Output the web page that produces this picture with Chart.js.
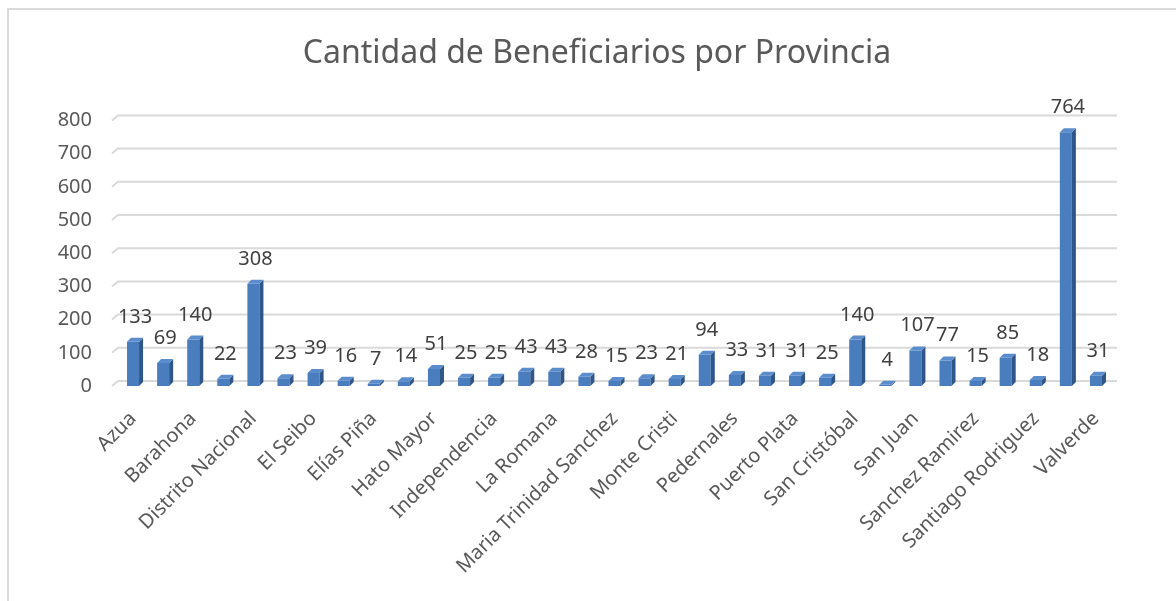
<!DOCTYPE html>
<html>
<head>
<meta charset="utf-8">
<script src="https://cdn.jsdelivr.net/npm/chart.js@4.4.1/dist/chart.umd.min.js"></script>
<style>
    html, body { margin: 0; padding: 0; background: #fff; }
    #wrap { position: relative; width: 1176px; height: 601px; }
    #frame { position: absolute; left: 7px; top: 8px; right: 0; bottom: 0; border-left: 2px solid #d9d9d9; border-top: 2px solid #d9d9d9; pointer-events: none; }
</style>
</head>
<body>
<div id="wrap">
    <canvas id="chart" width="1176" height="601"></canvas>
    <div id="frame"></div>
</div>
<script>
// Data
const provincias = [
    'Azua', 'Bahoruco', 'Barahona', 'Dajabón', 'Distrito Nacional', 'Duarte',
    'El Seibo', 'Espaillat', 'Elías Piña', 'Hermanas Mirabal', 'Hato Mayor', 'Monseñor Nouel',
    'Independencia', 'La Altagracia', 'La Romana', 'La Vega', 'Maria Trinidad Sanchez', 'Monte Plata',
    'Monte Cristi', 'Peravia', 'Pedernales', 'Samaná', 'Puerto Plata', 'San José de Ocoa',
    'San Cristóbal', 'San Pedro de Macorís', 'San Juan', 'Santiago', 'Sanchez Ramirez', 'Santo Domingo',
    'Santiago Rodriguez', 'Provincia Santo Domingo', 'Valverde'
];
const beneficiarios = [
    133, 69, 140, 22, 308, 23, 39, 16, 7, 14, 51, 25, 25, 43, 43, 28, 15,
    23, 21, 94, 33, 31, 31, 25, 140, 4, 107, 77, 15, 85, 18, 764, 31
];
const yTicks = [0, 100, 200, 300, 400, 500, 600, 700, 800];

const FONT = "'Noto Sans', 'Open Sans', sans-serif";

// back-wall gridlines (shifted up, like the 3D floor)
const wallGrid = {
    id: 'wallGrid',
    beforeDatasetsDraw(chart) {
        const {ctx, chartArea} = chart;
        const y = chart.scales.y;
        ctx.save();
        ctx.strokeStyle = '#d9d9d9';
        ctx.lineWidth = 2;
        yTicks.forEach(v => {
            const py = y.getPixelForValue(v) - 5;
            ctx.beginPath();
            ctx.moveTo(chartArea.left - 6, py + 5);
            ctx.lineTo(chartArea.left, py);
            ctx.lineTo(chartArea.right + 6, py);
            ctx.stroke();
        });
        ctx.restore();
    }
};

// side + top faces and value labels
const bars3d = {
    id: 'bars3d',
    afterDatasetsDraw(chart) {
        const {ctx} = chart;
        const meta = chart.getDatasetMeta(0);
        const d = 4;
        ctx.save();
        meta.data.forEach((bar, i) => {
            const w = bar.width;
            const left = bar.x - w / 2, right = bar.x + w / 2;
            const top = bar.y, base = bar.base;
            // side
            ctx.fillStyle = '#2f5689';
            ctx.beginPath();
            ctx.moveTo(right, top);
            ctx.lineTo(right + d, top - d);
            ctx.lineTo(right + d, base - d);
            ctx.lineTo(right, base);
            ctx.closePath();
            ctx.fill();
            // top
            ctx.fillStyle = '#5b8ccc';
            ctx.beginPath();
            ctx.moveTo(left, top);
            ctx.lineTo(left + d, top - d);
            ctx.lineTo(right + d, top - d);
            ctx.lineTo(right, top);
            ctx.closePath();
            ctx.fill();
            // label
            ctx.fillStyle = '#404040';
            ctx.font = '20px ' + FONT;
            ctx.textAlign = 'center';
            ctx.textBaseline = 'alphabetic';
            ctx.fillText(String(beneficiarios[i]), bar.x + 2, top - 19);
        });
        ctx.restore();
    }
};

new Chart(document.getElementById('chart'), {
    type: 'bar',
    data: {
        labels: provincias,
        datasets: [{
            data: beneficiarios,
            backgroundColor: '#4a7dbd',
            borderWidth: 0,
            barPercentage: 0.4,
            categoryPercentage: 1
        }]
    },
    options: {
        responsive: false,
        animation: false,
        layout: { padding: { left: 18, right: 0, top: 0, bottom: 0 } },
        plugins: {
            legend: { display: false },
            tooltip: { enabled: false },
            title: {
                display: true,
                text: 'Cantidad de Beneficiarios por Provincia',
                color: '#595959',
                font: { family: FONT, size: 32, weight: 'normal', lineHeight: 1.2 },
                padding: { top: 35, bottom: 47 }
            }
        },
        scales: {
            x: {
                grid: { display: false },
                border: { display: false },
                ticks: {
                    autoSkip: false,
                    minRotation: 45,
                    maxRotation: 45,
                    color: '#595959',
                    font: { family: FONT, size: 20 },
                    padding: 13,
                    callback: (v, i) => i % 2 === 0 ? provincias[i] : ''
                },
                afterFit: s => { s.height = 215; }
            },
            y: {
                min: 0,
                max: 800,
                afterBuildTicks: s => { s.ticks = yTicks.map(v => ({value: v})); },
                grid: { display: false, drawTicks: false },
                border: { display: false },
                ticks: {
                    color: '#595959',
                    font: { family: FONT, size: 20 },
                    padding: 26
                },
                afterFit: s => { s.width = 100; }
            },
            // empty right-hand gutter
            gutter: {
                type: 'linear',
                position: 'right',
                display: true,
                grid: { display: false, drawTicks: false },
                border: { display: false },
                ticks: { display: false },
                afterFit: s => { s.width = 65; }
            }
        }
    },
    plugins: [wallGrid, bars3d]
});
</script>
</body>
</html>
